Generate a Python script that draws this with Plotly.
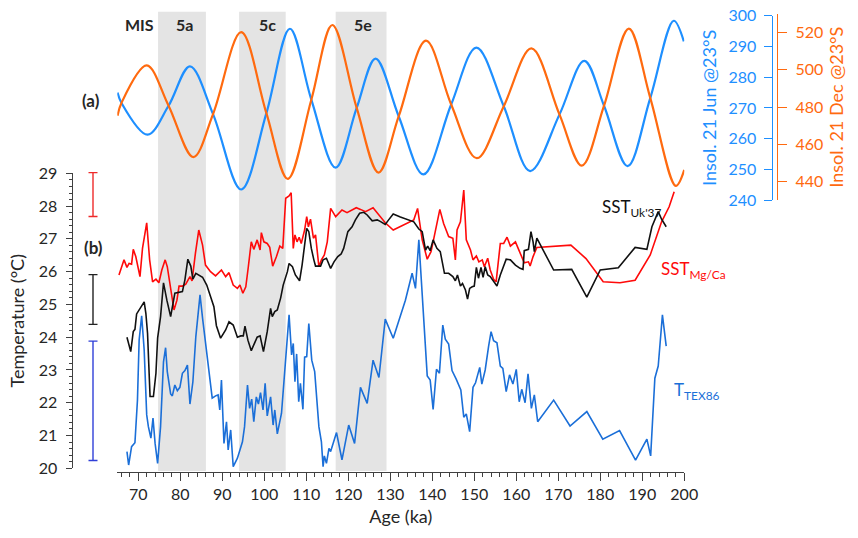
import plotly.graph_objects as go

# ---------------- data ----------------
# Insolation 21 Jun @23°S (W/m2)
jun_age = [65.05, 66.0, 72.2, 77.2, 82.3, 87.8, 94.5, 100.5, 106.1, 111.2, 117.0, 122.0, 126.5,
           132.0, 137.9, 144.5, 150.5, 157.0, 163.3, 170.3, 176.2, 180.9, 186.5, 191.9, 197.5, 199.9]
jun_val = [275.0, 271.6, 261.3, 270.7, 283.5, 268.0, 243.5, 268.3, 295.7, 272.7, 250.6, 270.0, 286.0,
           267.3, 248.4, 271.1, 289.6, 270.6, 249.5, 267.9, 285.3, 270.7, 251.1, 273.2, 298.3, 291.6]

# Insolation 21 Dec @23°S (W/m2)
dec_age = [65.05, 66.0, 72.0, 77.2, 83.1, 87.8, 94.5, 100.5, 105.6, 111.2, 116.2, 122.0, 127.2,
           132.0, 138.5, 144.5, 150.6, 157.0, 163.6, 170.3, 175.6, 180.9, 186.8, 191.9, 198.0, 200.0]
dec_val = [475.4, 482.3, 502.4, 480.8, 453.2, 476.3, 520.3, 476.8, 441.5, 484.0, 524.1, 479.6, 444.9,
           475.0, 515.7, 481.4, 452.6, 480.4, 511.5, 476.0, 448.6, 480.8, 522.2, 485.0, 437.7, 446.3]

# SST Mg/Ca
mg_age = [65.4, 66.6, 67.3, 67.8, 68.4, 68.8, 69.4, 70.4, 71.0, 72.0, 72.7, 73.4, 74.2, 74.9, 75.6, 76.4,
          76.9, 77.6, 78.1, 78.5, 79.2, 79.7, 80.5, 81.3, 82.3, 82.8, 83.6, 84.4, 85.3, 86.0, 87.2, 88.4,
          89.8, 90.8, 91.6, 92.6, 93.6, 94.2, 94.9, 95.6, 96.2, 96.9, 97.5, 98.3, 99.0, 99.3, 99.9, 100.7,
          101.3, 102.0, 102.9, 103.7, 104.4, 105.1, 105.9, 106.4, 106.9, 107.3, 107.8, 108.3, 108.8, 109.6,
          110.1, 110.5, 111.0, 111.7, 112.2, 113.0, 113.6, 114.3, 115.0, 115.8, 117.0, 118.5, 119.7, 120.9,
          121.9, 122.9, 124.1, 125.9, 127.3, 128.8, 130.7, 135.6, 136.5, 137.6, 138.8, 139.7, 140.3, 141.8,
          142.7, 143.9, 144.9, 145.5, 145.9, 146.7, 147.5, 148.1, 149.1, 149.7, 150.5, 151.1, 151.9, 152.4,
          153.2, 153.8, 154.6, 155.2, 156.2, 157.0, 157.8, 158.6, 159.8, 160.9, 161.9, 162.9, 163.3, 164.0,
          164.5, 164.9, 173.0, 176.6, 180.7, 184.7, 188.3, 191.9, 194.6, 196.4, 197.6]
mg_val = [25.90, 26.36, 26.13, 26.25, 26.23, 26.68, 26.46, 25.85, 26.71, 27.49, 26.36, 25.69, 25.77, 25.66,
          26.05, 26.36, 26.15, 25.54, 25.13, 24.83, 25.13, 25.56, 25.56, 25.62, 25.85, 25.72, 26.56, 27.27,
          26.81, 26.20, 26.00, 25.87, 26.05, 25.85, 25.97, 25.59, 25.49, 25.59, 25.34, 25.54, 26.15, 26.91,
          26.68, 26.97, 26.66, 27.19, 26.91, 26.86, 26.74, 26.17, 26.46, 26.78, 26.71, 28.24, 28.31, 28.41,
          26.71, 27.12, 26.91, 27.05, 26.86, 27.27, 27.68, 27.37, 27.60, 27.02, 27.12, 26.15, 26.36, 26.51,
          26.91, 27.93, 27.68, 27.88, 27.80, 27.88, 27.95, 27.90, 27.83, 27.95, 27.73, 27.49, 27.27, 27.58,
          27.93, 26.97, 26.38, 26.61, 26.97, 27.90, 27.47, 27.07, 27.02, 26.36, 27.27, 27.52, 28.49, 26.97,
          26.66, 26.36, 26.48, 26.30, 26.36, 26.15, 26.41, 26.05, 25.77, 25.69, 26.86, 26.86, 27.05, 26.78,
          26.91, 26.56, 26.27, 26.30, 26.17, 26.46, 26.61, 26.74, 26.81, 26.40, 25.69, 25.66, 25.74, 26.51,
          27.52, 27.98, 28.44]

# SST Uk'37
uk_age = [67.3, 68.2, 68.8, 69.2, 69.6, 70.6, 71.4, 71.8, 72.2, 72.8, 73.6, 74.2, 74.6, 75.3, 76.0, 76.8,
          77.7, 78.7, 79.5, 80.5, 81.1, 81.8, 82.5, 83.0, 83.7, 84.5, 85.3, 86.3, 87.2, 88.0, 88.6, 89.6,
          90.8, 91.6, 92.6, 93.6, 94.4, 95.0, 95.4, 96.1, 96.9, 97.7, 98.3, 99.0, 99.8, 100.7, 101.5, 101.9,
          102.5, 103.1, 103.9, 104.5, 105.5, 105.9, 106.7, 107.4, 108.4, 109.0, 109.6, 110.1, 110.6, 111.2,
          111.8, 112.2, 113.4, 114.0, 114.8, 115.8, 116.6, 117.5, 118.3, 118.9, 119.9, 120.9, 121.7, 122.7,
          123.7, 124.5, 125.7, 126.9, 127.8, 128.8, 129.6, 130.7, 132.4, 135.6, 136.8, 137.6, 138.4, 138.9,
          139.5, 140.2, 141.1, 141.9, 142.9, 143.9, 144.9, 145.5, 146.0, 146.7, 147.2, 147.9, 148.4, 148.9,
          149.5, 150.0, 150.5, 151.0, 151.6, 152.1, 152.6, 153.2, 153.8, 154.6, 155.4, 156.2, 157.6, 158.6,
          159.8, 160.9, 161.6, 161.9, 162.4, 162.9, 163.5, 164.0, 164.3, 164.9, 168.9, 173.2, 176.8, 180.0,
          184.3, 188.3, 191.1, 192.3, 193.8, 194.6, 195.7]
uk_val = [24.00, 23.56, 24.17, 24.24, 24.71, 24.93, 25.08, 24.73, 24.12, 22.19, 22.19, 22.90, 23.97, 24.63,
          25.66, 25.13, 24.63, 25.34, 25.36, 25.39, 25.75, 26.38, 26.17, 25.77, 25.95, 25.90, 25.83, 25.59,
          25.26, 24.93, 24.35, 23.97, 24.22, 24.47, 24.37, 24.00, 24.04, 24.04, 24.34, 23.91, 23.59, 23.86,
          24.00, 24.04, 23.56, 24.17, 24.88, 24.63, 24.78, 24.83, 25.20, 25.59, 26.00, 26.25, 26.15, 25.90,
          25.72, 26.20, 26.86, 27.32, 27.22, 26.71, 26.36, 26.17, 26.17, 26.36, 26.41, 26.10, 26.30, 26.46,
          26.54, 26.71, 27.22, 27.37, 27.58, 27.78, 27.81, 27.73, 27.55, 27.58, 27.52, 27.44, 27.58, 27.76,
          27.67, 27.52, 27.30, 27.22, 26.66, 26.78, 26.64, 26.97, 26.71, 26.61, 25.95, 25.95, 25.85, 25.72,
          25.90, 25.56, 25.64, 25.44, 25.16, 25.49, 25.54, 25.56, 26.13, 25.80, 26.13, 25.83, 26.15, 25.90,
          25.85, 25.69, 25.56, 25.90, 26.38, 26.36, 26.20, 26.10, 26.07, 26.64, 26.66, 26.68, 27.22, 26.91,
          26.61, 27.02, 26.05, 26.07, 25.22, 26.05, 26.12, 26.74, 26.68, 27.37, 27.83, 27.60, 27.37]

# T TEX86
tex_age = [67.3, 67.7, 68.4, 69.2, 69.8, 70.2, 70.8, 71.4, 72.0, 72.4, 73.0, 73.5, 74.0, 74.6, 75.3, 76.0,
           76.5, 76.9, 77.7, 78.1, 78.7, 79.3, 79.9, 80.5, 81.1, 81.7, 82.3, 83.0, 83.7, 84.2, 84.7, 85.3,
           86.0, 86.8, 87.6, 88.4, 89.0, 89.4, 89.8, 90.4, 91.0, 91.4, 92.0, 92.6, 93.6, 94.8, 95.3, 96.0,
           96.5, 97.0, 97.5, 98.1, 98.6, 99.1, 99.7, 100.2, 100.7, 101.5, 102.1, 102.5, 103.1, 104.1, 105.1,
           105.9, 106.5, 106.9, 107.3, 107.7, 108.2, 108.6, 109.2, 109.6, 110.1, 110.6, 111.3, 112.0, 113.0,
           113.6, 114.0, 114.3, 114.8, 115.4, 115.8, 116.3, 117.2, 118.5, 120.1, 121.5, 122.9, 124.5, 125.9,
           127.3, 128.8, 130.7, 133.6, 135.2, 136.0, 136.8, 138.8, 139.5, 140.2, 141.0, 141.7, 142.5, 143.1,
           143.9, 144.7, 145.7, 146.8, 147.5, 148.1, 148.9, 149.7, 150.3, 151.3, 151.8, 152.6, 153.4, 154.0,
           154.6, 155.4, 156.2, 156.8, 157.6, 158.4, 159.2, 160.0, 160.7, 161.3, 162.1, 162.8, 163.6, 164.3,
           165.1, 168.9, 172.8, 176.8, 180.6, 184.6, 188.4, 191.1, 192.0, 193.0, 193.8, 194.8, 195.7]
tex_val = [20.51, 20.10, 20.66, 20.78, 22.08, 23.91, 24.65, 23.61, 21.63, 21.27, 20.92, 21.53, 20.76, 20.15,
           21.27, 23.25, 23.68, 22.95, 22.27, 22.21, 22.54, 22.37, 22.47, 22.90, 22.98, 23.15, 21.96, 22.64,
           24.02, 24.73, 25.29, 24.58, 23.81, 23.10, 22.14, 22.21, 22.24, 21.78, 22.69, 20.76, 21.42, 20.56,
           21.17, 20.05, 20.31, 20.81, 21.27, 22.54, 21.83, 22.11, 21.42, 22.18, 21.96, 22.31, 21.78, 22.59,
           21.60, 22.18, 21.32, 21.78, 21.05, 21.68, 23.36, 24.68, 23.46, 23.81, 22.64, 23.49, 22.03, 22.59,
           21.80, 23.39, 23.41, 24.42, 23.30, 22.95, 21.27, 20.81, 20.05, 20.38, 20.15, 20.61, 20.51, 20.71,
           21.09, 20.26, 21.32, 20.76, 22.47, 21.98, 23.30, 22.77, 24.55, 23.97, 25.13, 25.95, 25.49, 26.97,
           22.82, 22.69, 21.80, 23.02, 22.90, 24.37, 23.94, 23.79, 22.98, 22.72, 22.39, 21.56, 21.66, 21.12,
           22.47, 22.61, 23.08, 22.57, 23.00, 23.71, 24.17, 23.89, 23.83, 23.12, 23.05, 22.34, 22.85, 22.57,
           23.02, 22.03, 22.41, 22.00, 22.88, 21.83, 22.24, 21.42, 22.08, 21.29, 21.73, 20.89, 21.15, 20.25,
           20.89, 20.38, 22.75, 23.12, 24.68, 23.73]

# analytical uncertainty bars (centre, half-range): Mg/Ca, Uk'37, TEX86
err_center = [28.35, 25.15, 22.06]
err_half = [0.67, 0.76, 1.82]

# MIS substages
mis_labels = ["5a", "5c", "5e"]
mis_start = [74.7, 94.0, 117.0]
mis_end = [86.1, 105.1, 129.1]
mis_label_x = [81.1, 100.7, 123.5]

# ---------------- style ----------------
W, H = 858, 538
FONT = "Lato, 'Open Sans', sans-serif"
TXT = "#262626"
AX = "#404040"
JUN_C = "#1e8fff"
DEC_C = "#ff6a0f"
MG_C = "#ff0a0a"
UK_C = "#111111"
TEX_C = "#1b6fd8"
ERR_C = ["#ee2a2a", "#222222", "#2f3fd8"]


def fx(p):
    return p / W


def fy(p):
    return (H - p) / H


fig = go.Figure()

# insolation curves
fig.add_trace(go.Scatter(x=jun_age, y=jun_val, xaxis="x", yaxis="y2", mode="lines",
                         line=dict(color=JUN_C, width=2.2, shape="spline", smoothing=1.0),
                         hoverinfo="skip"))
fig.add_trace(go.Scatter(x=dec_age, y=dec_val, xaxis="x", yaxis="y3", mode="lines",
                         line=dict(color=DEC_C, width=2.2, shape="spline", smoothing=1.0),
                         hoverinfo="skip"))

# temperature records
fig.add_trace(go.Scatter(x=mg_age, y=mg_val, xaxis="x", yaxis="y", mode="lines",
                         line=dict(color=MG_C, width=1.6)))
fig.add_trace(go.Scatter(x=uk_age, y=uk_val, xaxis="x", yaxis="y", mode="lines",
                         line=dict(color=UK_C, width=1.6)))
fig.add_trace(go.Scatter(x=tex_age, y=tex_val, xaxis="x", yaxis="y", mode="lines",
                         line=dict(color=TEX_C, width=1.6)))

# uncertainty bars
for c, h, col in zip(err_center, err_half, ERR_C):
    fig.add_trace(go.Scatter(x=[0.5], y=[c], xaxis="x2", yaxis="y4", mode="markers",
                             marker=dict(size=1, color="rgba(0,0,0,0)"),
                             error_y=dict(type="data", array=[h], symmetric=True, color=col,
                                          thickness=1.4, width=4.5)))

shapes = []
annotations = []
for lab, a0, a1, lx in zip(mis_labels, mis_start, mis_end, mis_label_x):
    shapes.append(dict(type="rect", xref="x", yref="paper", x0=a0, x1=a1,
                       y0=fy(471), y1=fy(11.7), fillcolor="#e4e4e4",
                       line=dict(width=0), layer="below"))
    annotations.append(dict(text="<b>%s</b>" % lab, xref="x", yref="paper", x=lx, y=fy(24),
                            showarrow=False, font=dict(size=16, color=TXT, family=FONT),
                            xanchor="center", yanchor="middle"))
annotations.append(dict(text="<b>MIS</b>", xref="x", yref="paper", x=70.4, y=fy(24),
                        showarrow=False, font=dict(size=16, color=TXT, family=FONT),
                        xanchor="center", yanchor="middle"))
annotations.append(dict(text="<b>(a)</b>", xref="paper", yref="paper", x=fx(91), y=fy(100),
                        showarrow=False, font=dict(size=17, color=TXT, family=FONT),
                        xanchor="center", yanchor="middle"))
annotations.append(dict(text="<b>(b)</b>", xref="paper", yref="paper", x=fx(93), y=fy(247),
                        showarrow=False, font=dict(size=17, color=TXT, family=FONT),
                        xanchor="center", yanchor="middle"))
annotations.append(dict(text="SST<sub>Uk'37</sub>", xref="x", yref="y", x=180.0, y=27.95,
                        showarrow=False, font=dict(size=17, color=UK_C, family=FONT),
                        xanchor="left", yanchor="middle"))
annotations.append(dict(text="SST<sub>Mg/Ca</sub>", xref="x", yref="y", x=194.0, y=26.05,
                        showarrow=False, font=dict(size=17, color=MG_C, family=FONT),
                        xanchor="left", yanchor="middle"))
annotations.append(dict(text="T<sub>TEX86</sub>", xref="x", yref="y", x=197.1, y=22.35,
                        showarrow=False, font=dict(size=17, color=TEX_C, family=FONT),
                        xanchor="left", yanchor="middle"))

fig.update_layout(
    width=W, height=H, margin=dict(l=0, r=0, t=0, b=0, autoexpand=False),
    paper_bgcolor="white", plot_bgcolor="rgba(0,0,0,0)",
    showlegend=False, font=dict(family=FONT, color=TXT),
    shapes=shapes, annotations=annotations,
    xaxis=dict(domain=[fx(117.3), fx(684.3)], range=[65, 200.01], anchor="free",
               position=fy(472), showline=True, linecolor=AX, linewidth=1.3, automargin=False,
               ticks="outside", ticklen=8, tickwidth=1.3, tickcolor=AX,
               tickmode="linear", tick0=70, dtick=10,
               minor=dict(ticks="outside", dtick=2, tick0=70, ticklen=4, tickwidth=1, tickcolor=AX),
               showgrid=False, zeroline=False, tickfont=dict(size=16, color=TXT),
               title=dict(text="Age (ka)", font=dict(size=18, color=TXT), standoff=8)),
    yaxis=dict(domain=[fy(468.3), fy(173.3)], range=[20, 29.001], anchor="free",
               position=fx(71.7), side="left", showline=True, linecolor=AX, linewidth=1.3,
               automargin=False,
               ticks="outside", ticklen=6, tickwidth=1.3, tickcolor=AX,
               tickmode="linear", tick0=20, dtick=1,
               minor=dict(ticks="outside", dtick=0.2, ticklen=3, tickwidth=1, tickcolor=AX),
               showgrid=False, zeroline=False, tickfont=dict(size=16, color=TXT),
               ticklabelstandoff=5,
               title=dict(text="Temperature (°C)", font=dict(size=18, color=TXT), standoff=8)),
    yaxis2=dict(domain=[fy(200.3), fy(15.5)], range=[240, 300.001], anchor="free",
                position=fx(771.7), side="left", showline=True, linecolor=JUN_C, linewidth=1.4,
                automargin=False,
                ticks="outside", ticklen=8, tickwidth=1.4, tickcolor=JUN_C,
                tickmode="linear", tick0=240, dtick=10,
                showgrid=False, zeroline=False, tickfont=dict(size=16, color=JUN_C),
                ticklabelstandoff=4,
                title=dict(text="Insol. 21 Jun @23°S", font=dict(size=18, color=JUN_C), standoff=6)),
    yaxis3=dict(domain=[fy(200.3), fy(14)], range=[430, 530], anchor="free",
                position=fx(777), side="right", showline=True, linecolor=DEC_C, linewidth=1.4,
                automargin=False,
                ticks="outside", ticklen=9, tickwidth=1.4, tickcolor=DEC_C,
                tickmode="linear", tick0=440, dtick=20,
                showgrid=False, zeroline=False, tickfont=dict(size=16, color=DEC_C),
                ticklabelstandoff=5,
                title=dict(text="Insol. 21 Dec @23°S", font=dict(size=18, color=DEC_C), standoff=8)),
    xaxis2=dict(domain=[fx(83), fx(103)], range=[0, 1], anchor="y4", visible=False),
    yaxis4=dict(domain=[fy(471.6), fy(170.0)], range=[19.9, 29.1], anchor="x2", visible=False),
)

fig.write_html("out.html")
